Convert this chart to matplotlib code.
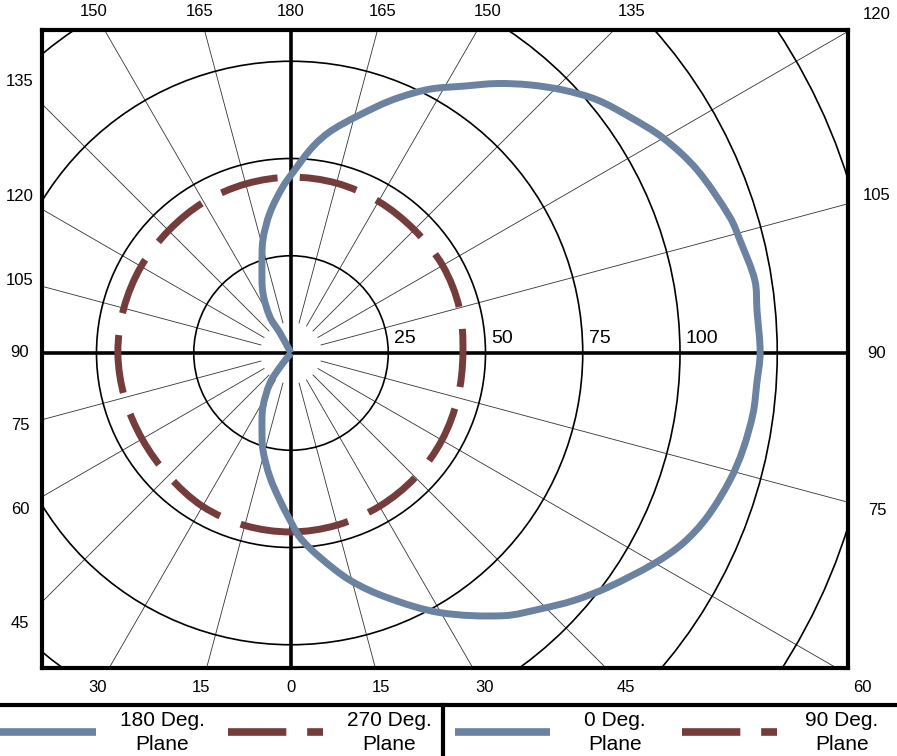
# -*- coding: utf-8 -*-

'''
    polar radiation pattern, drawn on a cartesian frame
'''

import numpy as np
import matplotlib
matplotlib.use('Agg')
import matplotlib.pyplot as plt
from matplotlib.patches import Circle, PathPatch
from matplotlib.path import Path

plt.rcParams['font.family'] = ['Liberation Sans', 'DejaVu Sans']
plt.rcParams['lines.scale_dashes'] = False

# angle 0 points down, angles grow towards the right side (90 = right, 180 = up)
solid_angle = [-38, -38, -35, -27.4, -20.6, -16.1, -9.6, -4.3, -0.3, 2.8, 8.1,
               14.6, 21.5, 29.9, 39.0, 44.3, 48.8, 53.5, 59.9, 64.1, 68.5, 73.9,
               77.9, 82.6, 86.3, 90, 95.3, 98.9, 104.1, 107.2, 114.3, 120.0,
               124.8, 129.6, 134.0, 138.3, 142.6, 147.2, 152.2, 156.9, 160.7,
               169.3, 173.9, 179.4, 182.8, 188.5, 193.9, 198.6, 205.0, 210.3,
               208.8, 208.8]
solid_r = [0, 4.6, 9.4, 15.7, 21.2, 26.0, 32.4, 38.0, 43.0, 47.5, 53.1, 60.4,
           67.6, 77.0, 86.9, 91.9, 96.6, 101.3, 107.9, 112.0, 115.0, 117.5,
           118.8, 119.8, 120.0, 120.6, 120.3, 120.7, 119.0, 118.1, 114.5, 110.5,
           106.2, 102.1, 97.3, 92.3, 87.2, 81.6, 76.7, 71.5, 67.2, 58.5, 53.4,
           46.4, 42.8, 36.5, 30.0, 23.4, 17.1, 10.7, 5.9, 0]

dash_angle = list(range(0, 360, 15))
dash_r = [46.0, 45.8, 45.5, 45.2, 44.8, 44.4, 44.2, 44.8, 45.0, 44.8, 45.0,
          45.2, 45.2, 45.0, 44.8, 44.5, 44.5, 44.5, 44.5, 44.3, 44.2, 44.6,
          45.5, 45.9]

ring_r = [25, 50, 75, 100, 125, 150]
ring_labels = ['25', '50', '75', '100']
ray_angle = list(range(0, 360, 15))

legend_names = ['180 Deg.', '270 Deg.', '0 Deg.', '90 Deg.']
legend_dashed = [False, True, False, True]

BLUE = '#6b82a0'
BROWN = '#743c3a'

W, H = 897, 756
S = 3.89            # pixels per unit
cx, cy = 291, 353   # centre of the pattern, pixels


def to_xy(ang, r):
    a = np.radians(np.asarray(ang, dtype=float))
    r = np.asarray(r, dtype=float)
    return np.column_stack([r * np.sin(a), -r * np.cos(a)])


def smooth_path(pts, closed=False):
    # smoothed line through the points, tangents scaled by chord length
    if closed:
        P = np.vstack([pts[-1], pts, pts[0], pts[1]])
    else:
        P = np.vstack([pts[0], pts, pts[-1]])
    d = np.hypot(*np.diff(P, axis=0).T)
    m = np.zeros_like(P)
    for i in range(1, len(P) - 1):
        m[i] = (P[i + 1] - P[i - 1]) / max(d[i - 1] + d[i], 1e-9)
    verts = [P[1]]
    codes = [Path.MOVETO]
    for i in range(1, len(P) - 2):
        c1 = P[i] + m[i] * d[i] / 3
        c2 = P[i + 1] - m[i + 1] * d[i] / 3
        verts += [c1, c2, P[i + 1]]
        codes += [Path.CURVE4] * 3
    return Path(verts, codes)


fig = plt.figure(figsize=(W / 100, H / 100), dpi=100)
ax = fig.add_axes([42 / W, (H - 668) / H, (848 - 42) / W, (668 - 30) / H])
ax.set_xlim((42 - cx) / S, (848 - cx) / S)
ax.set_ylim(-(668 - cy) / S, (cy - 30) / S)
ax.set_xticks([])
ax.set_yticks([])
for sp in ax.spines.values():
    sp.set_linewidth(3)
    sp.set_color('black')
    sp.set_zorder(10)

# rings
for r in ring_r:
    ax.add_patch(Circle((0, 0), r, fill=False, ec='black', lw=1.2, zorder=2))

# thin rays every 15 degrees
for a in ray_angle:
    if a % 90 == 0:
        continue
    seg = to_xy([a, a], [8, 400])
    ax.plot(seg[:, 0], seg[:, 1], color='#333333', lw=0.6, zorder=1)

ax.axhline(0, color='black', lw=2.6, zorder=3)
ax.axvline(0, color='black', lw=2.6, zorder=3)

# curves
ax.add_patch(PathPatch(smooth_path(to_xy(dash_angle, dash_r), closed=True),
                       fill=False, ec=BROWN, lw=5, linestyle=(0, (42, 16)),
                       capstyle='butt', zorder=4))
ax.add_patch(PathPatch(smooth_path(to_xy(solid_angle, solid_r)),
                       fill=False, ec=BLUE, lw=5, joinstyle='round',
                       capstyle='butt', zorder=5))

# ring labels
for r, lab in zip(ring_r, ring_labels):
    ax.text(r + 1.5, 1.5, lab, fontsize=14, ha='left', va='bottom', zorder=6)

# angle labels outside the frame, along each ray
for a in ray_angle:
    dx, dd = np.sin(np.radians(a)), np.cos(np.radians(a))
    tx = ((877 - cx) / dx if dx > 0 else (20 - cx) / dx) if abs(dx) > 1e-9 else np.inf
    ty = ((688 - cy) / dd if dd > 0 else (12 - cy) / dd) if abs(dd) > 1e-9 else np.inf
    t = min(tx, ty)
    px, py = cx + t * dx, cy + t * dd
    if ty < tx:
        px = min(px, 862)
    lab = a if a <= 180 else 360 - a
    fig.text(px / W, 1 - py / H, str(lab), fontsize=12, ha='center', va='center')

# legend strip at the bottom, in pixel coordinates
lg = fig.add_axes([0, 0, 1, 1])
lg.set_xlim(0, W)
lg.set_ylim(H, 0)
lg.axis('off')
lg.plot([0, W], [705, 705], color='black', lw=3)
lg.plot([443, 443], [705, H], color='black', lw=3)

sample_x = [(0, 96), (228, 323), (455, 550), (682, 777)]
text_x = [162, 389, 615, 842]
for name, dashed, (x0, x1), tx in zip(legend_names, legend_dashed, sample_x, text_x):
    if dashed:
        lg.plot([x0, x1], [732, 732], color=BROWN, lw=5.5, dashes=(42, 15),
                dash_capstyle='butt')
    else:
        lg.plot([x0, x1], [732, 732], color=BLUE, lw=5.5, solid_capstyle='butt')
    lg.text(tx, 720, name, fontsize=15, ha='center', va='center')
    lg.text(tx, 745, 'Plane', fontsize=15, ha='center', va='center')

fig.savefig('out.png', dpi=100)
